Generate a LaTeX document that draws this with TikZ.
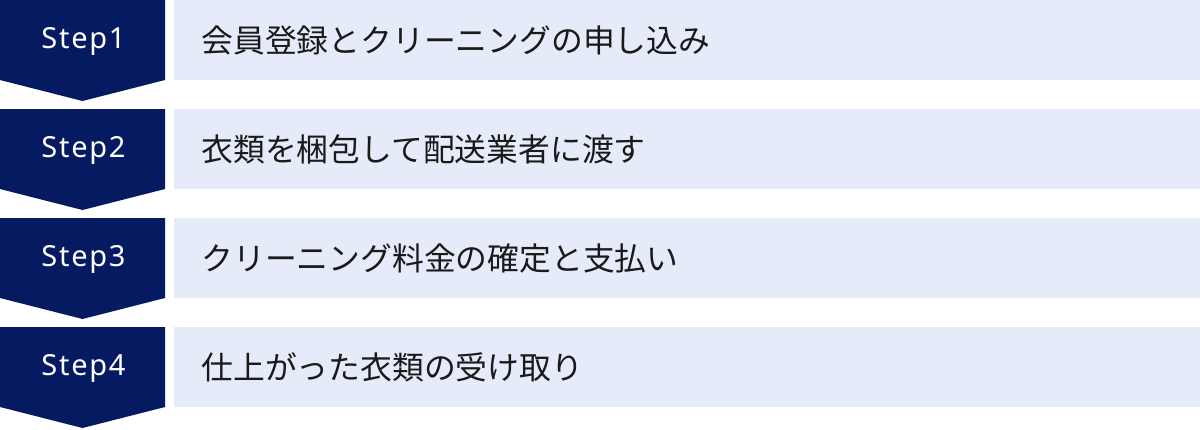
\documentclass[tikz,border=0pt]{standalone}
\usepackage{fontspec}
\setmainfont{Noto Sans}
\newfontfamily\stepfont[LetterSpace=6]{Noto Sans}
\newfontfamily\jpfont{Noto Sans CJK JP}
\definecolor{stepnavy}{HTML}{061A62}
\definecolor{barblue}{HTML}{E5EBF8}
\definecolor{bartext}{HTML}{1A1A1A}
\tikzset{
  steplabel/.style={text=white, font=\stepfont\fontsize{14.5pt}{17pt}\selectfont, anchor=center, inner sep=0pt},
  bartitle/.style={text=bartext, font=\jpfont\fontsize{15.9pt}{19pt}\selectfont, anchor=west, inner sep=0pt}
}

\begin{document}
\begin{tikzpicture}[x=0.5pt, y=-0.5pt]
    \useasboundingbox (0,0) rectangle (1200,429);
    \fill[stepnavy] (0,0) -- (165,0) -- (165,80) -- (82.5,101) -- (0,80) -- cycle;
    \fill[stepnavy] (0,109) -- (165,109) -- (165,189) -- (82.5,210) -- (0,189) -- cycle;
    \fill[stepnavy] (0,218) -- (165,218) -- (165,298) -- (82.5,319) -- (0,298) -- cycle;
    \fill[stepnavy] (0,327) -- (165,327) -- (165,407) -- (82.5,428) -- (0,407) -- cycle;
    \fill[barblue] (174,0) rectangle (1200,80);
    \fill[barblue] (174,109) rectangle (1200,189);
    \fill[barblue] (174,218) rectangle (1200,298);
    \fill[barblue] (174,327) rectangle (1200,407);

    \node[steplabel] (S1) at (83.5,41) {Step1};
    \node[steplabel] (S2) at (83.5,150) {Step2};
    \node[steplabel] (S3) at (83.5,259) {Step3};
    \node[steplabel] (S4) at (83.5,368) {Step4};
    \node[bartitle] (T1) at (201,40) {会員登録とクリーニングの申し込み};
    \node[bartitle] (T2) at (201,149) {衣類を梱包して配送業者に渡す};
    \node[bartitle] (T3) at (201,258) {クリーニング料金の確定と支払い};
    \node[bartitle] (T4) at (201,367) {仕上がった衣類の受け取り};
  \end{tikzpicture}
\end{document}
